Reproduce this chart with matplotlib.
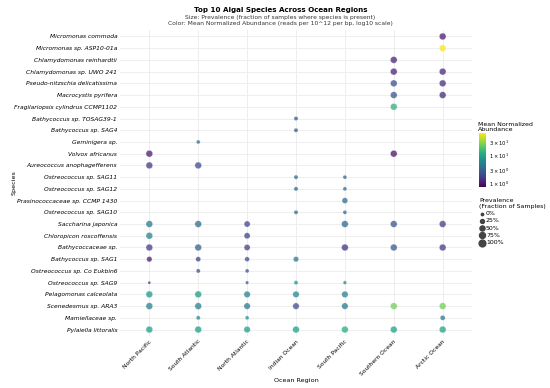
import matplotlib.pyplot as plt
import numpy as np
from matplotlib.colors import LogNorm
from matplotlib.ticker import FixedLocator, FixedFormatter

regions = ['North Pacific', 'South Atlantic', 'North Atlantic', 'Indian Ocean',
           'South Pacific', 'Southern Ocean', 'Arctic Ocean']
species = ['Micromonas commoda', 'Micromonas sp. ASP10-01a', 'Chlamydomonas reinhardtii',
           'Chlamydomonas sp. UWO 241', 'Pseudo-nitzschia delicatissima', 'Macrocystis pyrifera',
           'Fragilariopsis cylindrus CCMP1102', 'Bathycoccus sp. TOSAG39-1', 'Bathycoccus sp. SAG4',
           'Geminigera sp.', 'Volvox africanus', 'Aureococcus anophagefferens',
           'Ostreococcus sp. SAG11', 'Ostreococcus sp. SAG12', 'Prasinococcaceae sp. CCMP 1430',
           'Ostreococcus sp. SAG10', 'Saccharina japonica', 'Chloropicon roscoffensis',
           'Bathycoccaceae sp.', 'Bathycoccus sp. SAG1', 'Ostreococcus sp. Co Eukbin6',
           'Ostreococcus sp. SAG9', 'Pelagomonas calceolata', 'Scenedesmus sp. ARA3',
           'Mamiellaceae sp.', 'Pylaiella littoralis']

n = np.nan
# columns: NP, SA, NA, IO, SP, SO, AO
prevalence = [
    [n, n, n, n, n, n, 1.0],
    [n, n, n, n, n, n, 1.0],
    [n, n, n, n, n, 1.0, n],
    [n, n, n, n, n, 1.0, 1.0],
    [n, n, n, n, n, 1.0, 1.0],
    [n, n, n, n, n, 1.0, 1.0],
    [n, n, n, n, n, 1.0, n],
    [n, n, n, 0.3, n, n, n],
    [n, n, n, 0.3, n, n, n],
    [n, 0.25, n, n, n, n, n],
    [1.0, n, n, n, n, 1.0, n],
    [1.0, 1.0, n, n, n, n, n],
    [n, n, n, 0.3, 0.25, n, n],
    [n, n, n, 0.3, 0.25, n, n],
    [n, n, n, n, 0.7, n, n],
    [n, n, n, 0.3, 0.25, n, n],
    [1.0, 1.0, 0.8, n, 1.0, 1.0, 1.0],
    [1.0, n, 0.8, n, n, n, n],
    [1.0, 1.0, 0.8, n, 1.0, 1.0, 1.0],
    [0.6, 0.5, 0.45, 0.6, n, n, n],
    [n, 0.3, 0.25, n, n, n, n],
    [0.08, n, 0.15, 0.3, 0.2, n, n],
    [1.0, 1.0, 0.9, 0.9, 0.9, n, n],
    [1.0, 1.0, 0.9, 0.9, 0.9, 1.0, 1.0],
    [n, 0.3, 0.25, n, n, n, 0.5],
    [1.0, 1.0, 0.9, 1.0, 1.0, 1.0, 1.0],
]
abundance = [
    [n, n, n, n, n, n, 1.0],
    [n, n, n, n, n, n, 65],
    [n, n, n, n, n, 1.1, n],
    [n, n, n, n, n, 1.1, 1.2],
    [n, n, n, n, n, 2.2, 1.3],
    [n, n, n, n, n, 2.3, 1.2],
    [n, n, n, n, n, 13, n],
    [n, n, n, 2.6, n, n, n],
    [n, n, n, 2.6, n, n, n],
    [n, 4.0, n, n, n, n, n],
    [1.0, n, n, n, n, 0.9, n],
    [1.5, 2.0, n, n, n, n, n],
    [n, n, n, 3.5, 3.0, n, n],
    [n, n, n, 3.0, 3.0, n, n],
    [n, n, n, n, 3.5, n, n],
    [n, n, n, 3.5, 3.0, n, n],
    [4.5, 3.5, 1.8, n, 3.2, 2.4, 1.6],
    [5.5, n, 1.7, n, n, n, n],
    [1.6, 3.0, 1.7, n, 1.4, 2.5, 1.6],
    [1.0, 1.7, 2.0, 4.5, n, n, n],
    [n, 2.2, 2.2, n, n, n, n],
    [1.3, n, 2.2, 8.0, 6.5, n, n],
    [8.0, 8.5, 5.0, 6.0, 5.0, n, n],
    [5.0, 5.0, 4.5, 2.0, 4.5, 25, 25],
    [n, 6.5, 6.5, n, n, n, 4.5],
    [9.0, 9.0, 9.0, 9.0, 12, 9.5, 10],
]

prev = np.array(prevalence)
abund = np.array(abundance)
yy, xx = np.where(~np.isnan(prev))
p = prev[yy, xx]
a = abund[yy, xx]

def size(v):
    return 3 + 21 * np.asarray(v)

fig = plt.figure(figsize=(5.5, 3.88), dpi=100)
ax = fig.add_axes([120/550, 1-336/388, 352/550, 306/388])
norm = LogNorm(vmin=0.7, vmax=68)
sc = ax.scatter(xx, yy, s=size(p), c=a, cmap='viridis', norm=norm, alpha=0.75,
                edgecolors='white', linewidths=0.3, zorder=3)

ax.set_xlim(-0.6, 6.6)
ax.set_ylim(25.55, -0.55)
ax.set_xticks(range(len(regions)))
ax.set_xticklabels(regions, rotation=45, ha='right', rotation_mode='anchor', fontsize=4.3)
ax.set_yticks(range(len(species)))
ax.set_yticklabels(species, fontsize=4.3, style='italic')
ax.tick_params(length=0, pad=2)
ax.grid(color='#ebebeb', lw=0.6)
ax.set_axisbelow(True)
for s in ax.spines.values():
    s.set_visible(False)
ax.set_xlabel('Ocean Region', fontsize=4.6, labelpad=1)
ax.set_ylabel('Species', fontsize=4.6, labelpad=2)
ax.yaxis.set_label_coords(-0.295, 0.5)

fig.text(0.51, 1-10/388, 'Top 10 Algal Species Across Ocean Regions', ha='center', va='center',
         fontsize=5.1, fontweight='bold')
fig.text(0.51, 1-20.5/388, 'Size: Prevalence (fraction of samples where species is present)\n'
         'Color: Mean Normalized Abundance (reads per 10^12 per bp, log10 scale)',
         ha='center', va='center', fontsize=4.3, color='#333333', linespacing=1.1)

cax = fig.add_axes([479/550, 1-187/388, 7/550, 54/388])
cb = fig.colorbar(sc, cax=cax)
cb.solids.set_alpha(1)
cb.outline.set_visible(False)
cb.ax.yaxis.set_major_locator(FixedLocator([1, 3, 10, 30]))
cb.ax.yaxis.set_minor_locator(FixedLocator([]))
cb.ax.yaxis.set_major_formatter(FixedFormatter([r'$1\times10^{0}$', r'$3\times10^{0}$',
                                                r'$1\times10^{1}$', r'$3\times10^{1}$']))
cb.ax.tick_params(labelsize=3.7, length=0, pad=2.5)
fig.text(478/550, 1-132/388, 'Mean Normalized\nAbundance', ha='left', va='bottom',
         fontsize=4.5, linespacing=1.0)

pct = [0, 0.25, 0.5, 0.75, 1.0]
handles = [ax.scatter([], [], s=size(v), c='#444444') for v in pct]
leg = fig.legend(handles, ['0%', '25%', '50%', '75%', '100%'],
                 title='Prevalence\n(Fraction of Samples)', loc='upper left',
                 bbox_to_anchor=(476/550, 1-195/388), frameon=False, fontsize=4.5,
                 title_fontsize=4.5, handletextpad=0.3, labelspacing=0.3, borderpad=0,
                 handlelength=0.8, alignment='left')

fig.savefig('out.png', dpi=100)
